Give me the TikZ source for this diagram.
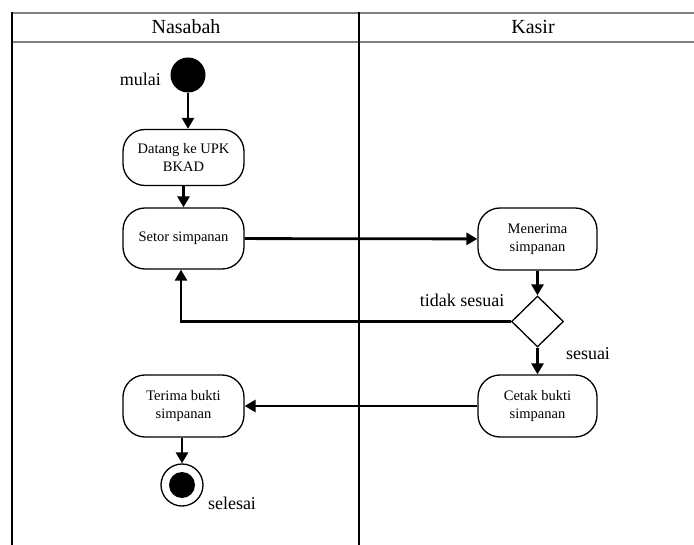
\documentclass[tikz,border=0pt]{standalone}
\usepackage{fontspec}
\setmainfont{Liberation Serif}
\usetikzlibrary{arrows.meta,shapes.geometric}
\begin{document}
\begin{tikzpicture}[x=1pt,y=-1pt,
  act/.style={draw,line width=1.3pt,rounded corners=22pt,align=center,inner sep=2pt,
    font=\fontsize{14.5}{18}\selectfont},
  flow/.style={line width=2.8pt,-{Triangle[length=11pt,width=12pt]}},
  lbl/.style={font=\fontsize{18}{20}\selectfont,inner sep=0pt},
  hdr/.style={font=\fontsize{20}{22}\selectfont,inner sep=0pt},
  lane/.style={line width=1.3pt},
  hline/.style={line width=2pt,draw=gray}]
\useasboundingbox (0,0) rectangle (694,545);
\fill[white] (0,0) rectangle (694,545);
% swimlanes
\draw[hline] (11,13) -- (694,13);
\draw[hline] (11,42) -- (694,42);
\draw[lane] (12,12) -- (12,545);
\draw[lane] (359,12) -- (359,545);
\node[hdr] (hn) at (186,27) {Nasabah};
\node[hdr] (hk) at (533,27) {Kasir};
% nodes
\node[circle,fill=black,minimum size=35pt,inner sep=0pt] (start) at (188,75) {};
\node[lbl,anchor=east] (lmulai) at (161,79) {mulai};
\node[act,minimum width=121pt,minimum height=56pt] (datang) at (183.5,157.5) {Datang ke UPK\\BKAD};
\node[act,minimum width=121pt,minimum height=61pt] (setor) at (183.5,238.5) {Setor simpanan};
\node[act,minimum width=119pt,minimum height=62pt] (menerima) at (537.5,239) {Menerima\\simpanan};
\node[diamond,draw,line width=1.3pt,minimum width=52pt,minimum height=51pt,inner sep=0pt] (dec) at (537.5,321.5) {};
\node[lbl] (ltidak) at (462,300) {tidak sesuai};
\node[lbl] (lsesuai) at (588,354) {sesuai};
\node[act,minimum width=119pt,minimum height=62pt] (cetak) at (537.5,406) {Cetak bukti\\simpanan};
\node[act,minimum width=121pt,minimum height=62pt] (terima) at (183.5,406) {Terima bukti\\simpanan};
\node[circle,draw,line width=1.3pt,minimum size=42pt,inner sep=0pt] (end) at (182,485) {};
\node[circle,fill=black,minimum size=26pt,inner sep=0pt] (endin) at (end.center) {};
\node[lbl] (lselesai) at (232,503) {selesai};
% connectors
\draw[flow] (start.south) -- (start.south |- datang.north);
\draw[flow] (datang) -- (setor);
\draw[flow] (setor) -- (menerima);
\draw[flow] (menerima) -- (dec);
\draw[flow] (dec) -- (cetak);
\draw[flow] (dec.west) -| ([xshift=-2.5pt]setor.south);
\draw[flow] (cetak) -- (terima);
\draw[flow] (terima.south -| end) -- (end);
\end{tikzpicture}
\end{document}
